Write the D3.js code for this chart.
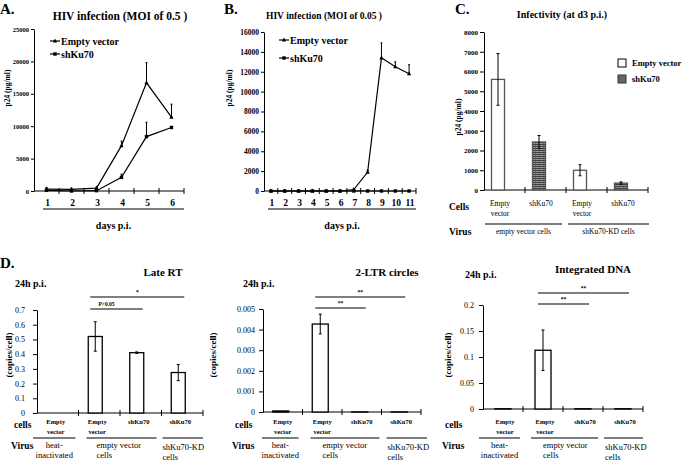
<!DOCTYPE html>
<html>
<head>
<meta charset="utf-8">
<script src="https://cdn.jsdelivr.net/npm/d3@7"></script>
<style>
  body { margin: 0; background: #fff; }
  svg, svg text { font-family: "Liberation Serif", "Times New Roman", serif; }
  .domain, .tick line { stroke: #000; }
</style>
</head>
<body>
<div id="chart"></div>
<script>
// ---- data ----
var daysA = [1, 2, 3, 4, 5, 6];
var emptyA = [300, 250, 450, 7000, 16700, 11400];
var emptyAErr = [250, 200, 150, 700, 3100, 2000];
var shKuA = [100, 0, 50, 2100, 8400, 9800];
var shKuAErr = [300, 150, 100, 500, 2200, 0];

var daysB = [1, 2, 3, 4, 5, 6, 7, 8, 9, 10, 11];
var emptyB = [0, 0, 0, 0, 0, 0, 150, 1900, 13400, 12500, 11800];
var emptyBErr = [0, 0, 0, 0, 0, 0, 100, 200, 1500, 500, 900];
var shKuB = [0, 0, 0, 0, 0, 0, 0, 0, 0, 0, 0];

var infCats = ["Empty vector|ev", "shKu70|ev", "Empty vector|kd", "shKu70|kd"];
var infCellLabels = [["Empty", "vector"], ["shKu70"], ["Empty", "vector"], ["shKu70"]];
var infVirus = ["empty vector cells", "shKu70-KD cells"];
var infValues = [5600, 2430, 1000, 350];
var infErr = [1310, 330, 280, 60];

var dCats = ["heat", "ev-empty", "ev-shKu70", "kd-shKu70"];
var dCellLabels = [["Empty", "vector"], ["Empty", "vector"], ["shKu70"], ["shKu70"]];
var dVirus = [["heat-", "inactivated"], ["empty vector", "cells"], ["shKu70-KD", "cells"]];
var lateRT = [0, 0.52, 0.41, 0.275];
var lateRTErr = [0, 0.1, 0.005, 0.055];
var ltr = [0.00005, 0.00427, 0.000005, 0.000005];
var ltrErr = [0, 0.00048, 0, 0];
var integ = [0.0005, 0.113, 0.0005, 0.0005];
var integErr = [0, 0.039, 0, 0];
var lateRTSig = [{from: 1, to: 2, label: "P>0.05"}, {from: 1, to: 3, label: "*"}];
var ltrSig = [{from: 1, to: 2, label: "**"}, {from: 1, to: 3, label: "**"}];
var integSig = [{from: 1, to: 2, label: "**"}, {from: 1, to: 3, label: "**"}];

var W = 685, H = 461;
var svg = d3.select("#chart").append("svg")
    .attr("width", W).attr("height", H);
svg.append("rect").attr("width", W).attr("height", H).attr("fill", "#fff");

// hatch for shKu70 bars
var defs = svg.append("defs");
var pat = defs.append("pattern").attr("id", "hatch")
    .attr("patternUnits", "userSpaceOnUse").attr("width", 4).attr("height", 2);
pat.append("rect").attr("width", 4).attr("height", 2).attr("fill", "#9a9a9a");
pat.append("rect").attr("width", 4).attr("height", 1).attr("fill", "#3c3c3c");
pat.append("rect").attr("x", 3).attr("width", 0.6).attr("height", 2).attr("fill", "#555");

function txt(x, y, s, size, opts) {
    opts = opts || {};
    var t = svg.append("text")
        .attr("x", x).attr("y", y)
        .attr("font-size", size)
        .attr("font-weight", opts.normal ? "normal" : "bold")
        .attr("text-anchor", opts.anchor || "start")
        .text(s);
    if (opts.rotate) t.attr("transform", "rotate(-90," + x + "," + y + ")");
    return t;
}

function marker(g, kind, cx, cy, s) {
    if (kind == "tri") {
        g.append("path")
            .attr("d", "M" + cx + "," + (cy - s) + "L" + (cx + s * 0.8) + "," + (cy + s * 0.6) + "L" + (cx - s * 0.8) + "," + (cy + s * 0.6) + "Z")
            .attr("fill", "#000");
    } else {
        g.append("rect").attr("x", cx - s * 0.65).attr("y", cy - s * 0.65)
            .attr("width", s * 1.3).attr("height", s * 1.3).attr("fill", "#000");
    }
}

// ---------- line panels ----------
function linePanel(c) {
    var g = svg.append("g");
    var x = d3.scaleBand().domain(c.days).range([c.x0, c.x1]);
    var y = d3.scaleLinear().domain([0, c.max]).range([c.y0, c.y1]);

    g.append("g").attr("transform", "translate(" + c.x0 + ",0)")
        .call(d3.axisLeft(y).tickValues(d3.range(0, c.max + 1, c.step)).tickFormat(d3.format("d"))
            .tickSize(3).tickPadding(2).tickSizeOuter(0))
        .call(function (a) {
            a.attr("font-family", null);
            a.selectAll("text").attr("font-size", c.tickFont).attr("font-weight", "bold");
        });

    var bounds = c.days.map(function (d) { return x(d) + x.bandwidth(); });
    g.append("line").attr("x1", c.x0).attr("x2", c.x1).attr("y1", c.y0).attr("y2", c.y0).attr("stroke", "#000");
    g.selectAll(".xt").data(bounds).enter().append("line")
        .attr("x1", function (d) { return d; }).attr("x2", function (d) { return d; })
        .attr("y1", c.y0 - 3).attr("y2", c.y0 + 3).attr("stroke", "#000");
    g.selectAll(".xl").data(c.days).enter().append("text")
        .attr("x", function (d) { return x(d) + x.bandwidth() / 2 + 1; })
        .attr("y", c.y0 + 15).attr("text-anchor", "middle")
        .attr("font-size", 9.5).attr("font-weight", "bold")
        .text(function (d) { return d; });

    g.append("line").attr("x1", c.ulx0).attr("x2", c.x1).attr("y1", c.y0 + 18).attr("y2", c.y0 + 18)
        .attr("stroke", "#555").attr("stroke-width", 1.3);
    txt((c.ulx0 + c.x1) / 2, c.y0 + 38, "days p.i.", 10, {anchor: "middle"});

    var cx = function (i) { return x(c.days[i]) + x.bandwidth() / 2; };
    var line = d3.line().x(function (d, i) { return cx(i); }).y(function (d) { return y(d); });

    c.series.forEach(function (s) {
        g.append("path").datum(s.values).attr("d", line)
            .attr("fill", "none").attr("stroke", "#000").attr("stroke-width", 1.2);
        s.values.forEach(function (v, i) {
            var e = s.err ? s.err[i] : 0;
            if (e > 0) {
                g.append("line").attr("x1", cx(i)).attr("x2", cx(i))
                    .attr("y1", y(v)).attr("y2", y(v + e)).attr("stroke", "#000");
                g.append("line").attr("x1", cx(i) - 1).attr("x2", cx(i) + 1)
                    .attr("y1", y(v + e)).attr("y2", y(v + e)).attr("stroke", "#000");
            }
            marker(g, s.kind, cx(i), y(v), 2.6);
        });
    });

    c.series.forEach(function (s, k) {
        var ly = c.legY + k * c.legStep;
        g.append("line").attr("x1", c.legX - 5).attr("x2", c.legX + 5)
            .attr("y1", ly).attr("y2", ly).attr("stroke", "#000").attr("stroke-width", 1.2);
        marker(g, s.kind, c.legX, ly, 2.6);
        txt(c.legX + 6, ly + 3.5, s.name, c.legFont);
    });
}

linePanel({
    days: daysA, x0: 34, x1: 184, y0: 191, y1: 29, max: 25000, step: 5000, tickFont: 6.5,
    ulx0: 43, legX: 55, legY: 41, legStep: 13, legFont: 10,
    series: [
        {name: "Empty vector", kind: "tri", values: emptyA, err: emptyAErr},
        {name: "shKu70", kind: "sq", values: shKuA, err: shKuAErr}
    ]
});
linePanel({
    days: daysB, x0: 264, x1: 416, y0: 191, y1: 32, max: 16000, step: 2000, tickFont: 7.5,
    ulx0: 268, legX: 284, legY: 40, legStep: 18, legFont: 10,
    series: [
        {name: "Empty vector", kind: "tri", values: emptyB, err: emptyBErr},
        {name: "shKu70", kind: "sq", values: shKuB}
    ]
});

txt(0, 14, "A.", 15);
txt(224, 14, "B.", 15);
txt(455, 14, "C.", 15);
txt(0, 268, "D.", 15);
txt(120, 20, "HIV  infection (MOI of 0.5 )", 11.5, {anchor: "middle"});
txt(324, 19, "HIV  infection (MOI of 0.05 )", 9.5, {anchor: "middle"});
txt(562, 18, "Infectivity (at d3 p.i.)", 10, {anchor: "middle"});
txt(10, 88, "p24 (pg/ml)", 7.5, {anchor: "middle", rotate: true});
txt(232, 88, "p24 (pg/ml)", 7.5, {anchor: "middle", rotate: true});
txt(461, 117, "p24 (pg/ml)", 7.5, {anchor: "middle", rotate: true});

// ---------- bar panels ----------
function barPanel(c) {
    var g = svg.append("g");
    var x = d3.scaleBand().domain(c.cats).range([c.x0, c.x1]);
    var y = d3.scaleLinear().domain([0, c.max]).range([c.y0, c.y1]);
    var ctr = function (i) { return x(c.cats[i]) + x.bandwidth() / 2 + c.shift; };

    g.append("g").attr("transform", "translate(" + c.x0 + ",0)")
        .call(d3.axisLeft(y).tickValues(c.ticks).tickFormat(c.fmt).tickSize(4).tickPadding(c.pad).tickSizeOuter(0))
        .call(function (a) {
            a.attr("font-family", null);
            a.selectAll("text").attr("font-size", c.tickFont).attr("font-weight", c.tickBold ? "bold" : "normal");
        });
    g.append("line").attr("x1", c.x0).attr("x2", c.x1).attr("y1", c.y0).attr("y2", c.y0).attr("stroke", "#000");
    g.selectAll(".xt").data(c.cats).enter().append("line")
        .attr("x1", function (d) { return x(d) + x.bandwidth(); })
        .attr("x2", function (d) { return x(d) + x.bandwidth(); })
        .attr("y1", c.y0 - 3).attr("y2", c.y0 + 3).attr("stroke", "#000");

    c.values.forEach(function (v, i) {
        if (v <= 0) return;
        g.append("rect").attr("x", ctr(i) - c.barW / 2).attr("y", y(v))
            .attr("width", c.barW).attr("height", c.y0 - y(v))
            .attr("fill", c.fills ? c.fills[i] : "#fff")
            .attr("stroke", c.barStroke || "#000").attr("stroke-width", 1.3);
        var e = c.err[i];
        if (e > 0) {
            g.append("line").attr("x1", ctr(i)).attr("x2", ctr(i))
                .attr("y1", y(v - e)).attr("y2", y(v + e)).attr("stroke", "#000");
            [v - e, v + e].forEach(function (w) {
                g.append("line").attr("x1", ctr(i) - 1.5).attr("x2", ctr(i) + 1.5)
                    .attr("y1", y(w)).attr("y2", y(w)).attr("stroke", "#000");
            });
        }
    });

    // significance bars
    (c.sig || []).forEach(function (s, k) {
        var ly = c.sigY - k * c.sigStep;
        var a = ctr(s.from) - 5, b = ctr(s.to) + 6;
        g.append("line").attr("x1", a).attr("x2", b)
            .attr("y1", ly).attr("y2", ly).attr("stroke", "#000").attr("stroke-width", 1.2);
        txt((a + b) / 2 - (k ? 0 : c.sigNudge || 0), ly - 3, s.label, 5.5, {anchor: "middle"});
    });

    // category labels
    c.cellLabels.forEach(function (lines, i) {
        lines.forEach(function (s, j) {
            txt(ctr(i) + 2, c.cellY + j * c.cellDy, s, c.cellFont, {anchor: "middle", normal: !c.cellBold});
        });
    });
    txt(c.cellsX, c.cellY + 4, c.cellsWord, 9.5);
    txt(c.virusX, c.virusY, "Virus", 9.5);

    c.groups.forEach(function (gr, k) {
        var a = x(c.cats[gr[0]]) + c.ulIn[k][0], b = x(c.cats[gr[1]]) + x.bandwidth() + c.ulIn[k][1];
        g.append("line").attr("x1", a).attr("x2", b).attr("y1", c.ulY).attr("y2", c.ulY)
            .attr("stroke", "#000").attr("stroke-width", 1.2);
        var lines = [].concat(c.virus[k]);
        lines.forEach(function (s, j) {
            var anc = c.virusAnchor[k];
            var tx = anc == "middle" ? (a + b) / 2 : a + c.virusOff[k];
            txt(tx, c.virusY - 1 + j * 10 + (k == 2 && c.cellsWord == "cells" ? 2 : 0), s, c.virusFont, {anchor: anc, normal: true});
        });
    });
}

barPanel({
    cats: infCats, x0: 484, x1: 648, y0: 190, y1: 32, max: 8000,
    ticks: d3.range(0, 8001, 1000), fmt: d3.format("d"), pad: 2, tickFont: 7, tickBold: true,
    shift: -6.5, barW: 13, values: infValues, err: infErr,
    fills: ["#fff", "url(#hatch)", "#fff", "url(#hatch)"], barStroke: "#555",
    cellLabels: infCellLabels, cellY: 206, cellDy: 10, cellFont: 7.5, cellBold: false,
    cellsWord: "Cells", cellsX: 449, virusX: 449, virusY: 235,
    groups: [[0, 1], [2, 3]], ulIn: [[1, -4], [2, 1]], ulY: 224,
    virus: infVirus, virusAnchor: ["middle", "middle"], virusOff: [0, 0], virusFont: 7.5
});
// legend C
svg.append("rect").attr("x", 618).attr("y", 59).attr("width", 8).attr("height", 8)
    .attr("fill", "#fff").attr("stroke", "#000");
svg.append("rect").attr("x", 618).attr("y", 75).attr("width", 8).attr("height", 8)
    .attr("fill", "#666").attr("stroke", "#333");
txt(632, 66, "Empty vector", 8.5);
txt(632, 82, "shKu70", 8.5);

var dCommon = {
    cats: dCats, tickBold: false, tickFont: 8,
    cellLabels: dCellLabels, cellY: 424, cellDy: 10, cellFont: 6.5, cellBold: true,
    cellsWord: "cells", virusY: 449,
    groups: [[0, 0], [1, 2], [3, 3]], ulY: 438,
    virus: dVirus, virusAnchor: ["middle", "start", "start"], virusFont: 8.5
};

barPanel(Object.assign({}, dCommon, {
    x0: 37, x1: 203, y0: 413, y1: 310, max: 0.7,
    ticks: d3.range(0, 0.71, 0.1), fmt: function (d) { return d === 0 ? "0" : d3.format(".1f")(d); }, pad: 8,
    shift: -4, barW: 14, values: lateRT, err: lateRTErr,
    sig: lateRTSig, sigY: 309, sigStep: 12, sigNudge: 10,
    cellsX: 14, virusX: 11,
    ulIn: [[-4, -3], [8, -5], [1, 0]], virusOff: [0, 10, 0]
}));
barPanel(Object.assign({}, dCommon, {
    x0: 263, x1: 421, y0: 412, y1: 309, max: 0.005,
    ticks: d3.range(0, 0.0051, 0.001), fmt: function (d) { return d === 0 ? "0" : d3.format(".3f")(d); }, pad: 4,
    shift: -2, barW: 16, values: ltr, err: ltrErr,
    sig: ltrSig, sigY: 308, sigStep: 11,
    cellsX: 235, virusX: 232,
    ulIn: [[-1, -4], [8, -2], [5, 6]], virusOff: [0, 12, 1]
}));
barPanel(Object.assign({}, dCommon, {
    x0: 483, x1: 643, y0: 409, y1: 305, max: 0.2,
    ticks: [0, 0.05, 0.1, 0.15, 0.2], fmt: function (d) { return d === 0 ? "0" : String(d); }, pad: 5,
    shift: 0, barW: 16, values: integ, err: integErr,
    sig: integSig, sigY: 304, sigStep: 11,
    cellsX: 445, virusX: 442,
    ulIn: [[-4, -3], [8, -5], [1, 0]], virusOff: [0, 12, 1]
}));

txt(163, 276, "Late RT", 11, {anchor: "middle"});
txt(387, 276, "2-LTR circles", 11, {anchor: "middle"});
txt(593, 273, "Integrated DNA", 11, {anchor: "middle"});
txt(15, 287, "24h p.i.", 10);
txt(243, 287, "24h p.i.", 10);
txt(465, 278, "24h p.i.", 10);
txt(12, 355, "(copies/cell)", 9, {anchor: "middle", rotate: true});
txt(216, 355, "(copies/cell)", 9, {anchor: "middle", rotate: true});
txt(451, 355, "(copies/cell)", 9, {anchor: "middle", rotate: true});
</script>
</body>
</html>
